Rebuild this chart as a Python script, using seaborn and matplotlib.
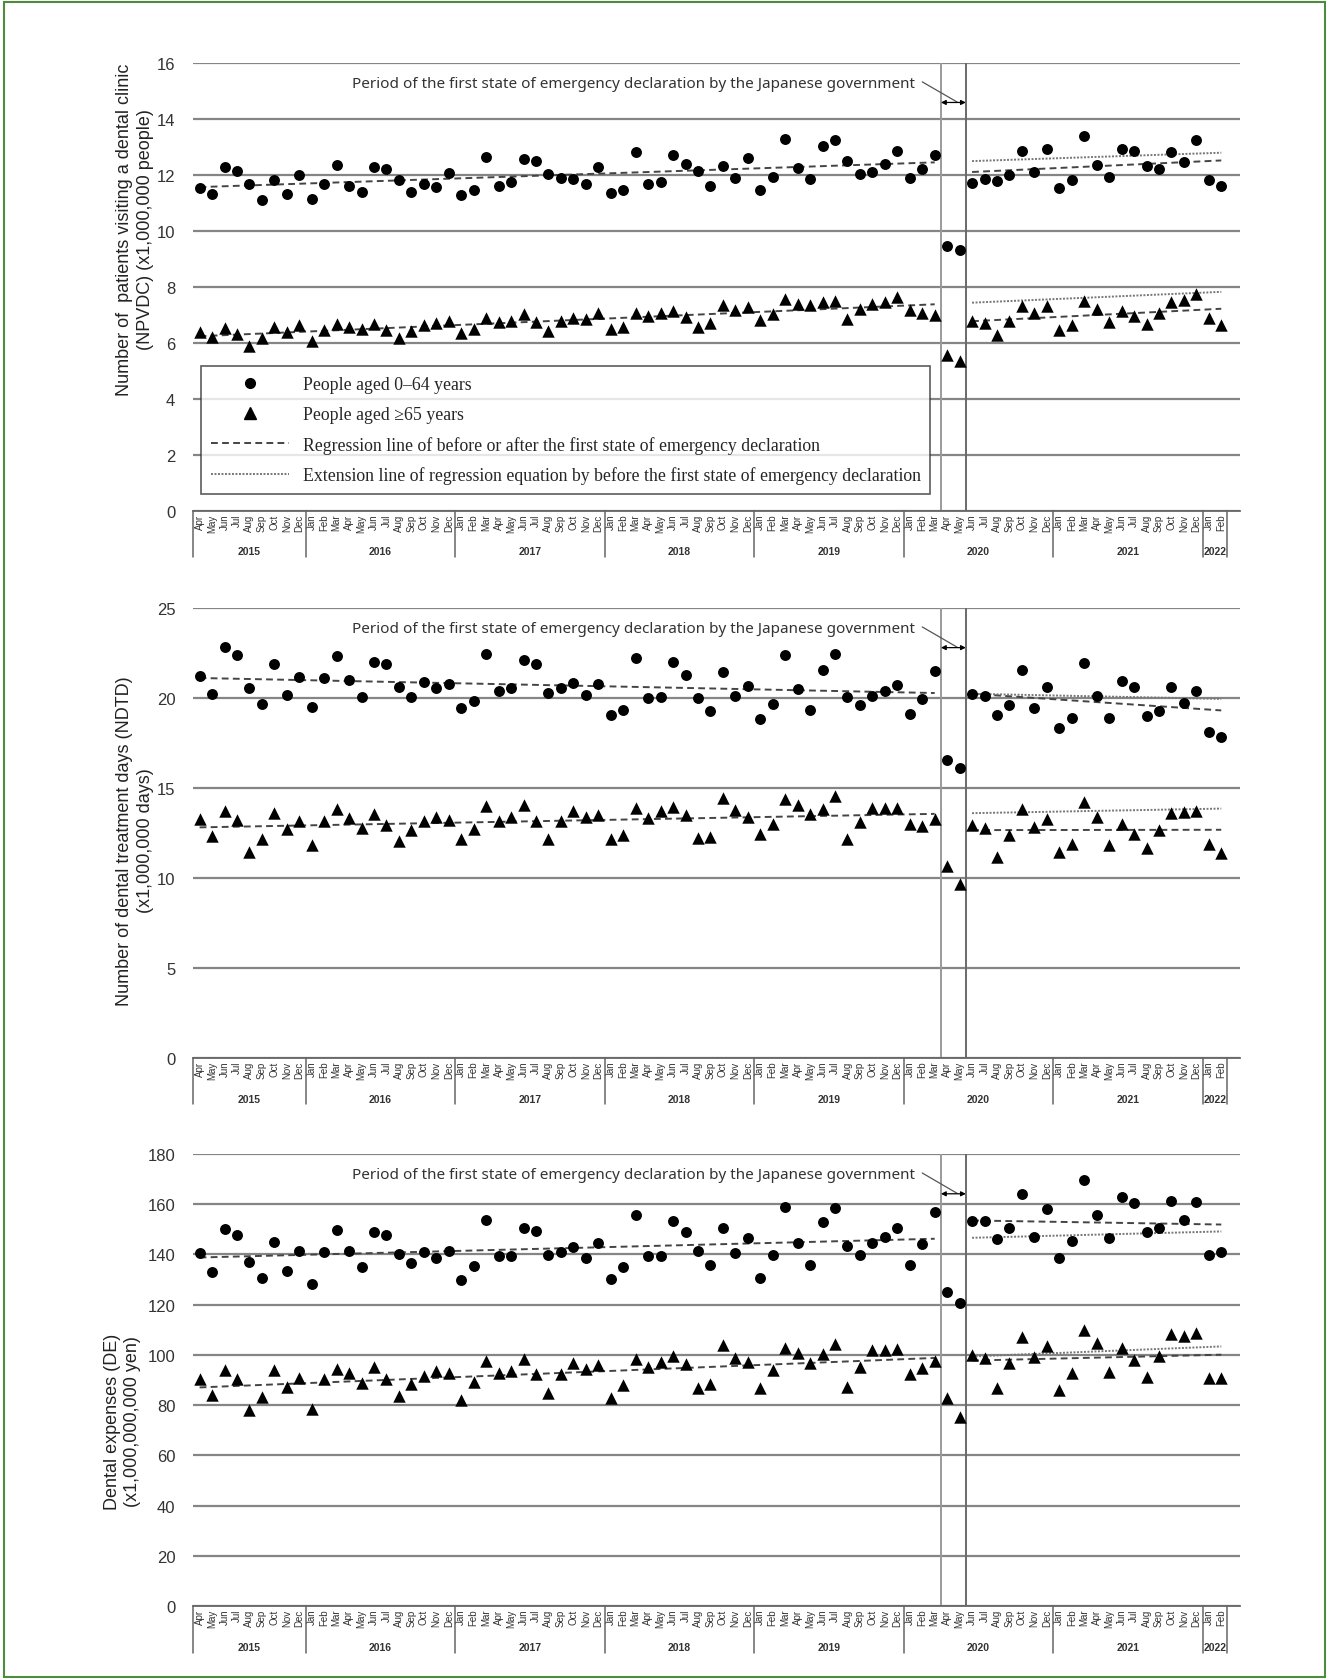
import numpy as np
import pandas as pd
import matplotlib
matplotlib.use("Agg")
import matplotlib.pyplot as plt
import matplotlib.transforms as mtransforms
from matplotlib.lines import Line2D
from matplotlib.patches import Rectangle
import seaborn as sns

# ---------- Data: monthly values, Apr 2015 .. Feb 2022 ----------
month_names = ['Jan', 'Feb', 'Mar', 'Apr', 'May', 'Jun', 'Jul', 'Aug', 'Sep', 'Oct', 'Nov', 'Dec']
n_months = 83
month_labels = [month_names[(3 + i) % 12] for i in range(n_months)]
years = ['2015', '2016', '2017', '2018', '2019', '2020', '2021', '2022']
year_months = [9, 12, 12, 12, 12, 12, 12, 2]

# first state of emergency: Apr-May 2020 (index 60, 61)
pre_end = 60
post_start = 62

# NPVDC (x1,000,000 people)
npvdc_young = [11.52, 11.34, 12.29, 12.13, 11.69, 11.10, 11.84, 11.34, 12.01, 11.15,
               11.67, 12.35, 11.61, 11.40, 12.28, 12.23, 11.84, 11.39, 11.67, 11.59,
               12.06, 11.29, 11.45, 12.64, 11.62, 11.74, 12.56, 12.49, 12.05, 11.90,
               11.87, 11.69, 12.29, 11.36, 11.46, 12.82, 11.69, 11.75, 12.72, 12.41,
               12.13, 11.60, 12.31, 11.90, 12.61, 11.48, 11.93, 13.30, 12.25, 11.87,
               13.03, 13.24, 12.51, 12.05, 12.12, 12.38, 12.87, 11.88, 12.20, 12.72,
               9.46, 9.32,
               11.73, 11.85, 11.79, 12.01, 12.87, 12.11, 12.92, 11.53, 11.84, 13.39,
               12.37, 11.93, 12.92, 12.87, 12.31, 12.23, 12.82, 12.45, 13.24, 11.84, 11.60]
npvdc_old = [6.38, 6.20, 6.53, 6.33, 5.88, 6.18, 6.59, 6.39, 6.63, 6.08,
             6.46, 6.69, 6.56, 6.51, 6.69, 6.46, 6.18, 6.44, 6.63, 6.70,
             6.79, 6.36, 6.51, 6.91, 6.74, 6.79, 7.03, 6.74, 6.44, 6.79,
             6.91, 6.85, 7.06, 6.50, 6.58, 7.09, 6.97, 7.06, 7.15, 6.94,
             6.56, 6.70, 7.36, 7.19, 7.27, 6.82, 7.03, 7.57, 7.41, 7.36,
             7.45, 7.51, 6.85, 7.21, 7.41, 7.45, 7.65, 7.19, 7.09, 7.01,
             5.58, 5.35,
             6.77, 6.71, 6.30, 6.79, 7.33, 7.07, 7.33, 6.47, 6.65, 7.51,
             7.22, 6.74, 7.15, 6.95, 6.68, 7.07, 7.48, 7.54, 7.74, 6.91, 6.63]

# NDTD (x1,000,000 days)
ndtd_young = [21.24, 20.22, 22.81, 22.37, 20.57, 19.67, 21.87, 20.19, 21.15, 19.52,
              21.09, 22.35, 21.02, 20.06, 22.02, 21.87, 20.59, 20.04, 20.89, 20.57,
              20.76, 19.43, 19.83, 22.44, 20.37, 20.54, 22.13, 21.91, 20.30, 20.57,
              20.83, 20.17, 20.76, 19.07, 19.31, 22.24, 19.98, 20.07, 21.98, 21.30,
              20.02, 19.28, 21.43, 20.09, 20.67, 18.81, 19.69, 22.37, 20.48, 19.33,
              21.57, 22.44, 20.04, 19.63, 20.11, 20.41, 20.70, 19.09, 19.93, 21.52,
              16.57, 16.09,
              20.24, 20.11, 19.04, 19.59, 21.57, 19.43, 20.59, 18.35, 18.91, 21.94,
              20.11, 18.91, 20.96, 20.59, 19.00, 19.28, 20.61, 19.72, 20.39, 18.09, 17.83]
ndtd_old = [13.26, 12.31, 13.72, 13.24, 11.44, 12.19, 13.63, 12.74, 13.19, 11.81,
            13.15, 13.81, 13.33, 12.80, 13.56, 12.96, 12.06, 12.69, 13.17, 13.41,
            13.22, 12.19, 12.70, 14.00, 13.17, 13.39, 14.06, 13.17, 12.19, 13.17,
            13.72, 13.37, 13.48, 12.19, 12.37, 13.89, 13.33, 13.72, 13.94, 13.48,
            12.22, 12.30, 14.46, 13.76, 13.39, 12.46, 13.00, 14.41, 14.04, 13.57,
            13.85, 14.54, 12.15, 13.11, 13.91, 13.91, 13.91, 13.02, 12.87, 13.30,
            10.65, 9.69,
            12.93, 12.78, 11.15, 12.37, 13.85, 12.83, 13.30, 11.44, 11.87, 14.22,
            13.39, 11.85, 13.02, 12.46, 11.67, 12.65, 13.63, 13.67, 13.72, 11.89, 11.41]

# DE (x1,000,000,000 yen)
de_young = [140.4, 133.1, 150.0, 147.7, 137.1, 130.7, 144.8, 133.6, 141.5, 128.2,
            141.1, 149.8, 141.5, 134.9, 148.8, 147.7, 140.3, 136.5, 140.9, 138.4,
            141.5, 129.8, 135.6, 153.6, 139.2, 139.2, 150.5, 149.3, 139.7, 140.9,
            143.1, 138.5, 144.4, 130.4, 135.1, 155.7, 139.2, 139.2, 153.2, 148.9,
            141.3, 135.9, 150.5, 140.5, 146.6, 130.8, 139.7, 159.0, 144.5, 135.7,
            152.8, 158.6, 143.2, 139.7, 144.5, 146.9, 150.6, 135.9, 144.0, 157.0,
            124.9, 120.7,
            153.2, 153.4, 146.0, 150.5, 164.1, 147.0, 158.1, 138.4, 145.3, 169.6,
            155.8, 146.4, 163.0, 160.5, 149.0, 150.6, 161.4, 153.6, 160.7, 139.9, 140.8]
de_old = [90.6, 84.1, 94.0, 90.3, 78.1, 83.4, 94.0, 87.1, 90.8, 78.6,
          90.6, 94.4, 92.6, 89.0, 95.1, 90.3, 83.7, 88.6, 91.8, 93.4,
          92.6, 82.1, 89.4, 97.5, 92.6, 93.4, 98.4, 92.3, 84.7, 92.4,
          96.9, 94.3, 96.1, 83.0, 88.2, 98.3, 95.3, 97.3, 99.6, 96.3,
          87.0, 88.3, 103.9, 98.8, 97.2, 86.8, 93.9, 102.8, 100.7, 96.9,
          100.3, 104.4, 87.1, 95.3, 102.1, 101.9, 102.5, 92.4, 94.6, 97.5,
          82.9, 75.1,
          99.9, 98.9, 86.8, 96.9, 107.2, 99.3, 103.6, 86.0, 92.6, 109.8,
          104.9, 93.0, 102.9, 97.9, 91.2, 99.6, 108.3, 107.6, 108.9, 91.0, 91.0]

note = "Period of the first state of emergency declaration by the Japanese government"
legend_labels = ['People aged 0\u201364 years',
                 'People aged \u226565 years',
                 'Regression line of before or after the first state of emergency declaration',
                 'Extension line of regression equation by before the first state of emergency declaration']

# ---------- Style ----------
sns.set_style('white')
plt.rcParams['font.family'] = ['Liberation Sans', 'DejaVu Sans']

DASH = (0, (3.5, 2.2))
DOT = (0, (1, 0.8))

fig = plt.figure(figsize=(13.29, 16.81), dpi=100)
x = np.arange(n_months)

panels = [
    (npvdc_young, npvdc_old, 16, 2,
     "Number of  patients visiting a dental clinic\n(NPVDC) (x1,000,000 people)",
     0.6954, 0.2665, -0.038, 0.63),
    (ndtd_young, ndtd_old, 25, 5,
     "Number of dental treatment days (NDTD)\n(x1,000,000 days)",
     0.3700, 0.2677, -0.038, 0.485),
    (de_young, de_old, 180, 20,
     "Dental expenses (DE)\n(x1,000,000,000 yen)",
     0.0440, 0.2689, -0.05, 0.41),
]

for k, (young, old, top, step, ylabel, bottom, height, label_x, label_y) in enumerate(panels):
    ax = fig.add_axes([0.1455, bottom, 0.7875, height])
    df = pd.DataFrame({'month': x, 'young': young, 'old': old})

    sns.scatterplot(data=df, x='month', y='young', marker='o', s=62, color='black',
                    linewidth=0, ax=ax, zorder=4)
    sns.scatterplot(data=df, x='month', y='old', marker='^', s=80, color='black',
                    linewidth=0, ax=ax, zorder=4)

    pre = df.iloc[:pre_end]
    post = df.iloc[post_start:]
    for col in ['young', 'old']:
        b_pre = np.polyfit(pre['month'], pre[col], 1)
        b_post = np.polyfit(post['month'], post[col], 1)
        ax.plot(pre['month'], np.polyval(b_pre, pre['month']), ls=DASH, color='#444444', lw=1.4, zorder=3)
        ax.plot(post['month'], np.polyval(b_post, post['month']), ls=DASH, color='#444444', lw=1.4, zorder=3)
        ax.plot(post['month'], np.polyval(b_pre, post['month']), ls=DOT, color='#777777', lw=1.4, zorder=3)

    ax.set_xlim(-0.5, 83.5)
    ax.set_ylim(0, top)
    ax.set_yticks(np.arange(0, top + step, step))
    ax.yaxis.grid(True, color='#858585', lw=1.6)
    ax.set_axisbelow(True)
    for side in ['left', 'right', 'top']:
        ax.spines[side].set_visible(False)
    ax.spines['bottom'].set_color('#666666')
    ax.spines['bottom'].set_linewidth(1.3)

    ax.set_xticks(x)
    ax.set_xticklabels(month_labels, rotation=90, fontsize=7, color='#333333')
    ax.tick_params(axis='x', length=0, pad=2)
    ax.tick_params(axis='y', length=0, pad=13, labelsize=12, labelcolor='#333333')
    ax.set_xlabel('')
    ax.set_ylabel(ylabel, fontsize=13, linespacing=1.25, color='#222222')
    ax.yaxis.set_label_coords(label_x, label_y)

    trans = mtransforms.blended_transform_factory(ax.transData, ax.transAxes)

    # year boxes under the month labels
    edges = np.concatenate([[0], np.cumsum(year_months)]) - 0.5
    for i, yr in enumerate(years):
        ax.text((edges[i] + edges[i + 1]) / 2, -0.09, yr, transform=trans, ha='center',
                va='center', fontsize=7.5, fontweight='bold', color='#333333')
    for e in edges:
        ax.plot([e, e], [0, -0.103], transform=trans, color='#666666', lw=1.1, clip_on=False)

    # emergency period
    ax.axvline(pre_end - 0.5, color='#9a9a9a', lw=1.4, zorder=2)
    ax.axvline(post_start - 0.5, color='#6a6a6a', lw=1.4, zorder=2)
    ax.text(57.4, 0.955, note, transform=trans, ha='right', va='center', fontsize=11,
            family=['Noto Sans', 'DejaVu Sans'], color='#333333')
    ax.plot([58.0, 60.8], [0.958, 0.913], transform=trans, color='#555555', lw=0.9)
    ax.annotate('', xy=(pre_end - 0.5, 0.912), xytext=(post_start - 0.5, 0.912),
                xycoords=trans, textcoords=trans,
                arrowprops=dict(arrowstyle='<|-|>', color='black', lw=0.9,
                                mutation_scale=7, shrinkA=0, shrinkB=0))

    if k == 0:
        handles = [Line2D([], [], marker='o', ls='none', color='black', ms=7),
                   Line2D([], [], marker='^', ls='none', color='black', ms=8),
                   Line2D([], [], ls=DASH, color='#444444', lw=1.4),
                   Line2D([], [], ls=DOT, color='#777777', lw=1.4)]
        leg = ax.legend(handles, legend_labels, loc='lower left', bbox_to_anchor=(0.0076, 0.038),
                        prop={'family': ['Liberation Serif', 'DejaVu Serif'], 'size': 12.8},
                        handlelength=4.4, handletextpad=0.75, labelspacing=0.72, borderpad=0.55,
                        frameon=True, fancybox=False, edgecolor='#333333', borderaxespad=0)
        leg.get_frame().set_linewidth(1.2)
        leg.set_zorder(6)

# green frame
fig.add_artist(Rectangle((0.003, 0.002), 0.994, 0.996, transform=fig.transFigure,
                         fill=False, edgecolor='#4c8c3c', lw=1.5))

fig.savefig('out.png', dpi=100)
